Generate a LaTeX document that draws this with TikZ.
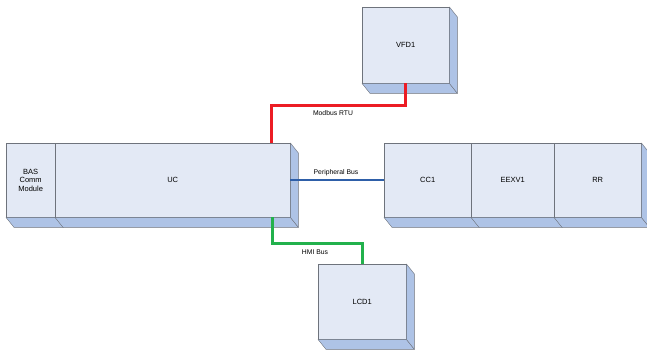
\documentclass[tikz,border=0pt]{standalone}
\usepackage{fontspec}
\setmainfont{Liberation Sans}
\usetikzlibrary{positioning,calc}
\definecolor{facefront}{HTML}{E3E9F5}
\definecolor{faceside}{HTML}{AEC3E6}
\definecolor{edgegray}{HTML}{6E737C}
\definecolor{busred}{HTML}{EC1C24}
\definecolor{busblue}{HTML}{2E5FA8}
\definecolor{busgreen}{HTML}{22B14C}
\tikzset{unit/.style={draw=edgegray,fill=facefront,inner sep=0pt,anchor=north west,align=center,font=\fontsize{7.5}{8.5}\selectfont},
  side/.style={draw=edgegray,fill=faceside,line join=round},
  bus/.style={line width=3pt},
  buslabel/.style={font=\fontsize{6.8}{7}\selectfont,inner sep=1pt}}
\begin{document}
\begin{tikzpicture}[x=1pt,y=-1pt]
      \useasboundingbox (0,0) rectangle (647,349);
      % controller row
      \node[unit,minimum width=49,minimum height=74] (bas) at (6,143) {BAS\\Comm\\Module};
      \node[unit,minimum width=235,minimum height=74] (uc) at (55,143) {UC};
      % expansion row
      \node[unit,minimum width=87,minimum height=74] (cc) at (384,143) {CC1};
      \node[unit,minimum width=83,minimum height=74] (eexv) at (471,143) {EEXV1};
      \node[unit,minimum width=87,minimum height=74] (rr) at (554,143) {RR};
      % drives and display
      \node[unit,minimum width=87,minimum height=76] (vfd) at (362,7) {VFD1};
      \node[unit,minimum width=88,minimum height=75] (lcd) at (318,264) {LCD1};
      \foreach \n in {bas,uc,cc,eexv,rr,vfd,lcd}
      {\filldraw[side] (\n.south west) -- (\n.south east) -- ++(8,10) -- ($(\n.south west)+(8,10)$) -- cycle;}
      \foreach \n in {uc,rr,vfd,lcd}
      {\filldraw[side] (\n.north east) -- ++(8,10) -- ($(\n.south east)+(8,10)$) -- (\n.south east) -- cycle;}
      % buses
      \coordinate (mbbend) at (271,105);
      \coordinate (hmibend) at (272,243);
      \draw[bus,busred] (vfd.south) |- (mbbend) -- (mbbend |- uc.north);
      \draw[bus,busblue,line width=2.4pt] (uc.east) -- (cc.west);
      \draw[bus,busgreen] (hmibend |- uc.south) -- (hmibend) -| (lcd.north);
      \node[buslabel] (mblabel) at (333,113) {Modbus RTU};
      \node[buslabel] (pblabel) at (336,173) {Peripheral Bus};
      \node[buslabel] (hmilabel) at (315,252) {HMI Bus};
    \end{tikzpicture}
\end{document}
